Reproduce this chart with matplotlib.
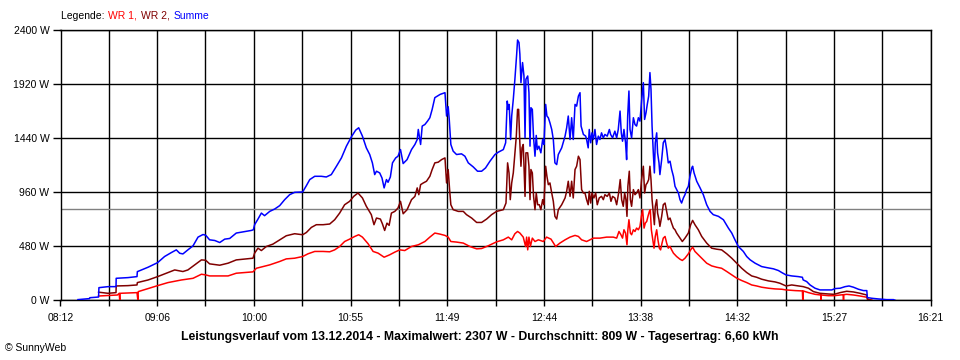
import matplotlib
matplotlib.use("Agg")
import matplotlib.pyplot as plt
import numpy as np

plt.rcParams['font.family'] = ['Liberation Sans', 'DejaVu Sans']

# ---- data (time in minutes since midnight, power in W) ----
wr1_t = [513.4, 524.0, 525.0, 525.3, 525.5, 535.0, 535.5, 535.7, 546.6, 552.4, 559.9, 566.5, 571.2, 573.6, 575.8, 586.2,
         590.8, 600.2, 602.1, 605.8, 609.6, 615.2, 618.9, 623.6, 628.1, 631.1, 634.9, 639.6, 643.3, 646.1, 648.9, 651.7,
         654.5, 657.4, 659.6, 661.7, 664.9, 667.7, 670.5, 673.9, 677.0, 679.9, 682.7, 685.5,
         689.3, 693.1, 696.8, 699.6, 702.4, 705.2, 708.1, 709.9, 711.4, 714.6, 718.4, 722.1, 725.9, 728.7, 732.4, 737.1,
         740.9, 743.7, 745.6, 747.4, 748.9, 750.2, 752.1, 753.4, 754.0, 754.6, 755.3, 756.1, 757.2, 758.7, 760.6, 763.4,
         765.2, 767.7, 770.3, 772.7, 775.6, 778.4, 781.2, 783.1, 784.9, 787.7,
         789.6, 791.5, 795.2, 799.0, 802.7, 804.6, 805.9, 807.0, 807.9, 808.7, 809.6, 810.4, 810.9, 811.5, 812.3, 813.0,
         814.0, 814.9, 815.8, 816.8, 817.7, 818.5, 819.2, 820.0, 820.7, 821.5, 822.2, 823.0, 823.5, 824.1, 824.8, 825.6,
         826.3, 827.1, 827.8, 828.6, 829.3, 830.1, 830.8, 831.8, 832.7, 833.6, 834.6, 835.5, 836.5, 838.3, 840.2, 841.5,
         843.0, 844.9, 846.2, 847.3, 848.6, 850.5, 852.4, 855.2, 858.0, 860.8, 863.6, 866.5, 869.3, 872.1, 874.9, 877.7,
         880.5, 883.3, 886.1,
         889.9, 893.6, 897.4, 899.8, 904.9, 909.0, 909.2, 909.4, 912.4, 916.1, 919.3, 919.4, 919.5, 923.6, 926.8, 930.2,
         932.0, 932.1, 932.2, 933.9, 937.7, 941.4, 945.2, 946.1, 948.0]
wr1_w = [38, 47, 62, 0, 62, 68, 0, 77, 130, 157, 180, 195, 231, 225, 216, 216,
         240, 252, 284, 299, 314, 344, 367, 373, 388, 412, 433, 433, 430, 447, 477, 521,
         542, 566, 581, 560, 501, 433, 418, 382, 403, 427, 447, 441,
         477, 492, 521, 560, 596, 587, 575, 560, 521, 516, 507, 477, 456, 459, 483, 518,
         536, 560, 536, 590, 610, 596, 560, 477, 560, 447, 560, 477, 551, 521, 536, 521,
         560, 542, 477, 507, 536, 560, 575, 566, 536, 521,
         536, 551, 551, 560, 560, 551, 610, 581, 551, 625, 596, 492, 625, 714, 596, 581,
         625, 610, 640, 625, 655, 744, 803, 640, 684, 699, 744, 788, 803, 625, 551, 462,
         566, 625, 536, 462, 447, 507, 551, 566, 507, 462, 477, 447, 418, 388, 364, 353,
         373, 412, 447, 471, 433, 403, 373, 329, 305, 293, 284, 255, 225, 196, 175, 157,
         136, 127, 116,
         107, 101, 98, 92, 86, 83, 0, 83, 68, 53, 47, 0, 47, 41, 41, 47,
         50, 0, 50, 53, 47, 38, 27, 6, 0]

wr2_t = [513.4, 518.7, 523.2, 523.3, 529.9, 535.0, 535.2, 541.2, 546.6, 550.5, 556.2, 560.8, 563.6, 567.4, 571.2, 573.6,
         575.8, 581.5, 586.2,
         590.8, 600.2, 601.1, 603.0, 604.9, 607.7, 611.4, 615.2, 618.9, 623.6, 628.1, 630.2, 633.0, 635.8, 639.6, 643.3,
         646.1, 648.9, 651.7, 654.5, 656.8, 659.2, 661.7, 663.9, 666.7, 668.2, 669.6, 671.8, 672.9, 674.2, 675.5, 676.7,
         678.0, 679.9, 681.7, 683.1, 684.6, 686.8,
         689.3, 691.2, 692.5, 693.4, 694.4, 695.9, 697.7, 699.6, 700.9, 702.4, 704.3, 706.2, 708.1, 709.0, 709.9, 710.7,
         711.4, 712.7, 715.6, 718.4, 720.2, 723.1, 725.9, 728.7, 731.5, 734.3, 737.1, 740.9, 742.4, 743.3, 744.1, 744.8,
         745.6, 746.5, 747.4, 748.2, 748.9, 749.5, 750.1, 750.8, 751.4, 752.1, 753.1, 753.6, 754.6, 755.3, 755.9, 756.4,
         757.2, 757.9, 758.7, 759.4, 760.2, 761.1, 762.0, 763.0, 763.7, 764.7, 765.4, 766.2, 767.1, 768.1, 769.0, 769.9,
         770.9, 771.8, 773.7, 775.6, 776.5, 777.4, 778.4, 779.3, 780.2, 781.2, 782.1, 783.1, 784.0, 784.9, 785.9, 786.8,
         787.7,
         788.6, 789.2, 790.0, 790.7, 791.8, 792.8, 793.7, 794.8, 796.1, 797.1, 798.0, 799.3, 800.5, 801.4, 802.3, 803.6,
         804.6, 805.7, 806.6, 807.4, 808.3, 809.1, 809.8, 810.4, 810.9, 811.7, 812.3, 813.0, 814.0, 814.9, 815.8, 816.8,
         817.7, 818.6, 819.6, 820.3, 821.1, 821.8, 822.6, 823.3, 823.9, 824.5, 825.2, 825.8, 826.3, 827.1, 827.6, 828.4,
         828.9, 829.9, 830.8, 831.8, 832.7, 833.6, 834.6, 835.5, 836.5, 837.4, 838.3, 840.2, 841.5, 843.0, 844.9, 846.2,
         847.3, 848.6, 850.5, 852.4, 855.2, 858.0, 860.8, 863.6, 866.5, 869.3, 872.1, 874.9, 877.7, 880.5, 883.3, 886.1,
         889.9, 893.6, 896.4, 899.8, 903.0, 906.7, 909.5, 912.4, 915.2, 918.9, 923.6, 926.8, 930.2, 933.9, 937.7, 941.4,
         945.2, 945.5, 948.0]
wr2_w = [72, 62, 68, 127, 130, 136, 157, 180, 210, 234, 269, 255, 269, 313, 358, 355,
         323, 311, 329,
         358, 373, 418, 462, 441, 477, 498, 536, 572, 590, 581, 601, 646, 670, 670, 676,
         714, 773, 847, 877, 921, 951, 907, 833, 759, 670, 729, 720, 679, 619, 684, 664,
         773, 788, 818, 877, 767, 803,
         892, 921, 996, 936, 1025, 1040, 1055, 1099, 1159, 1218, 1224, 1247, 1262, 1040, 1159, 981,
         847, 803, 788, 788, 759, 729, 690, 690, 720, 759, 788, 803, 862, 1218, 1129, 892,
         1040, 1129, 1307, 1455, 1692, 1692, 1425, 1188, 1351, 1381, 921, 1307, 1307, 1188, 892, 1159,
         1129, 921, 803, 951, 847, 847, 803, 892, 847, 1188, 1099, 1025, 1040, 951, 877, 744,
         720, 803, 847, 907, 966, 1055, 921, 1055, 907, 1159, 1188, 1277, 1247, 981, 951, 951,
         892,
         847, 966, 862, 951, 907, 951, 847, 907, 921, 892, 936, 921, 951, 877, 921, 907,
         847, 951, 1070, 892, 833, 951, 892, 744, 1010, 1144, 892, 833, 981, 936, 951, 981,
         907, 1070, 1188, 951, 1025, 1040, 1070, 1188, 1070, 892, 773, 670, 833, 892, 773, 714,
         655, 744, 847, 862, 788, 714, 729, 684, 640, 625, 596, 551, 521, 551, 596, 670,
         708, 670, 625, 566, 507, 462, 453, 447, 412, 373, 329, 284, 246, 216, 204, 187,
         172, 163, 151, 127, 136, 127, 121, 107, 77, 62, 56, 53, 68, 80, 74, 62,
         47, 9, 0]

sum_t = [501.8, 508.3, 508.5, 513.4, 513.6, 518.7, 523.2, 523.3, 529.9, 535.0, 535.2, 541.2, 546.6, 550.5, 554.3, 557.1,
         559.0, 560.8, 563.6, 566.5, 569.3, 572.1, 573.6, 575.8, 578.7, 581.5, 584.3, 587.1,
         590.8, 599.2, 600.4, 601.1, 603.0, 604.9, 606.7, 609.6, 612.4, 615.2, 618.0, 620.8, 623.6, 628.1, 630.2, 632.1,
         634.9, 638.6, 641.4, 644.2, 647.1, 649.9, 652.7, 655.5, 657.9, 659.6, 661.7, 663.9, 665.8, 667.3, 668.6, 669.6,
         671.4, 672.7, 673.9, 675.2, 676.1, 677.4, 678.6, 680.4, 681.7, 683.1, 684.6, 686.8,
         689.3, 691.2, 692.5, 693.1, 694.4, 695.3, 696.8, 698.3, 699.6, 700.9, 702.4, 703.9, 705.4, 707.1, 708.1, 709.0,
         709.9, 710.5, 711.4, 712.7, 714.6, 717.4, 719.3, 721.2, 724.0, 726.4, 728.7, 730.9, 733.4, 736.2, 738.1, 740.9,
         742.2, 743.1, 743.7, 744.2, 745.0, 745.6, 746.5, 747.4, 748.4, 748.9, 749.7, 750.2, 750.8, 751.2, 751.7, 752.5,
         753.1, 753.6, 754.6, 755.3, 755.9, 756.4, 757.2, 757.9, 758.7, 759.4, 760.0, 760.9, 762.0, 763.0, 763.7, 764.7,
         765.4, 766.2, 767.1, 768.1, 769.0, 769.9, 770.9, 771.8, 773.7, 775.6, 776.5, 777.4, 778.4, 779.3, 780.2, 781.2,
         782.1, 783.1, 784.0, 784.6, 785.9, 787.2,
         787.7, 788.6, 789.2, 790.0, 790.7, 791.5, 792.4, 793.3, 794.3, 795.2, 796.1, 797.1, 798.0, 799.3, 800.5, 801.2,
         802.3, 803.6, 804.6, 805.5, 806.5, 807.2, 807.9, 808.7, 809.6, 810.2, 810.8, 811.5, 812.1, 813.0, 814.0, 814.9,
         815.8, 816.8, 817.7, 818.6, 819.6, 820.3, 821.1, 821.8, 822.6, 823.3, 823.9, 824.5, 825.2, 825.8, 826.3, 827.1,
         827.6, 828.4, 828.9, 829.9, 830.8, 831.8, 832.7, 833.6, 834.6, 835.5, 836.5, 837.4, 838.3, 839.3, 840.2, 841.1,
         842.1, 843.0, 843.9, 844.9, 845.8, 846.8, 847.3, 848.1, 849.6, 851.5, 853.3, 855.2, 857.1, 858.9, 861.8, 864.6,
         867.4, 869.3, 871.1, 873.0, 875.8, 877.7, 879.6, 882.4, 884.3, 886.1,
         888.9, 892.7, 895.5, 897.4, 899.8, 903.0, 906.7, 909.0, 909.4, 911.4, 913.3, 916.1, 918.9, 921.7, 925.5, 927.4,
         930.2, 933.0, 935.2, 937.7, 940.5, 943.3, 945.2, 945.5, 948.0, 951.7, 956.4, 960.2, 961.1]
sum_w = [6, 15, 23, 29, 112, 121, 121, 195, 201, 210, 254, 293, 334, 388, 423, 447,
         417, 411, 447, 483, 560, 583, 577, 536, 530, 512, 542, 548,
         596, 619, 625, 670, 720, 773, 750, 788, 809, 839, 892, 936, 957, 960, 1016, 1070,
         1099, 1099, 1093, 1114, 1188, 1262, 1366, 1449, 1508, 1529, 1455, 1351, 1292, 1218, 1114, 1144,
         1129, 1084, 996, 1070, 1046, 1093, 1218, 1262, 1277, 1336, 1212, 1247,
         1336, 1381, 1425, 1514, 1381, 1544, 1558, 1588, 1618, 1692, 1796, 1810, 1825, 1834, 1840, 1633,
         1716, 1603, 1381, 1322, 1292, 1298, 1277, 1218, 1182, 1144, 1144, 1173, 1233, 1292, 1313, 1336,
         1396, 1766, 1692, 1736, 1425, 1633, 1781, 1959, 2181, 2307, 2285, 2181, 1929, 2003, 2107, 1988,
         1440, 1959, 1988, 1840, 1366, 1707, 1692, 1440, 1277, 1461, 1336, 1366, 1307, 1425, 1381, 1736,
         1633, 1618, 1573, 1514, 1425, 1218, 1203, 1292, 1351, 1455, 1529, 1633, 1425, 1618, 1425, 1736,
         1721, 1810, 1840, 1544, 1470, 1455,
         1425, 1351, 1514, 1396, 1484, 1425, 1514, 1381, 1455, 1425, 1484, 1440, 1470, 1455, 1514, 1470,
         1440, 1499, 1440, 1514, 1677, 1484, 1410, 1514, 1396, 1247, 1633, 1855, 1514, 1440, 1618, 1558,
         1544, 1618, 1588, 1766, 1929, 1603, 1662, 1736, 1810, 2018, 1870, 1544, 1307, 1129, 1396, 1484,
         1307, 1218, 1114, 1247, 1396, 1425, 1336, 1218, 1233, 1159, 1099, 1010, 981, 951, 892, 862,
         907, 936, 981, 1010, 1099, 1173, 1188, 1129, 1055, 996, 936, 847, 788, 759, 744, 714,
         640, 596, 536, 477, 433, 388, 359, 329, 314, 299,
         290, 279, 264, 246, 225, 216, 210, 204, 181, 166, 136, 107, 92, 92, 92, 104,
         107, 121, 127, 116, 98, 86, 86, 24, 18, 12, 6, 6, 0]

avg_w = 809
y_ticks = [0, 480, 960, 1440, 1920, 2400]
x_labels = ["08:12", "09:06", "10:00", "10:55", "11:49", "12:44", "13:38", "14:32", "15:27", "16:21"]
t_start, t_end = 492, 981
legend_names = ["WR 1", "WR 2", "Summe"]
colors = ["#ff0000", "#800000", "#0000ff"]
title = ("Leistungsverlauf vom 13.12.2014 - Maximalwert: 2307 W - "
         "Durchschnitt: 809 W - Tagesertrag: 6,60 kWh")

# ---- figure ----
fig = plt.figure(figsize=(9.6, 3.6), dpi=100)
fig.patch.set_facecolor("white")
ax = fig.add_axes([60.5 / 960, 59.7 / 360, 870 / 960, 270.8 / 360])

ax.set_xlim(t_start, t_end)
ax.set_ylim(0, 2400)

major = np.linspace(t_start, t_end, len(x_labels))
minor = (major[:-1] + major[1:]) / 2
ax.set_xticks(major)
ax.set_xticklabels(x_labels)
ax.set_xticks(minor, minor=True)
ax.set_yticks(y_ticks)
ax.set_yticklabels([f"{v} W" for v in y_ticks])

ax.set_axisbelow(True)
ax.grid(which="both", axis="x", color="black", lw=1.0)
ax.grid(which="major", axis="y", color="black", lw=1.0)
ax.axhline(avg_w, color="#808080", lw=1.0, zorder=1.5)

ax.plot(wr1_t, wr1_w, color=colors[0], lw=1.1, zorder=3)
ax.plot(wr2_t, wr2_w, color=colors[1], lw=1.1, zorder=3)
ax.plot(sum_t, sum_w, color=colors[2], lw=1.1, zorder=3)

for s in ax.spines.values():
    s.set_color("black")
    s.set_linewidth(1.0)

ax.tick_params(axis="y", which="major", direction="out", length=6, width=1,
               pad=2, labelsize=7.5, colors="black")
ax.tick_params(axis="x", which="both", direction="out", length=4, width=1,
               pad=5, labelsize=7.5, colors="black")

# title (bottom)
fig.text(479.5 / 960, 1 - 337 / 360, title, ha="center", va="center",
         fontsize=8.8, fontweight="bold", color="black")
# copyright
fig.text(5 / 960, 1 - 348 / 360, "\u00a9 SunnyWeb", ha="left", va="center",
         fontsize=7.5, color="black")

# legend line at top
renderer = fig.canvas.get_renderer()
x_px = 61.0
parts = [("Legende: ", "black")]
for i, (nm, c) in enumerate(zip(legend_names, colors)):
    sep = ", " if i < len(legend_names) - 1 else ""
    parts.append((nm + sep, c))
for txt, c in parts:
    t = fig.text(x_px / 960, 1 - 16 / 360, txt, ha="left", va="center",
                 fontsize=7.5, color=c)
    bb = t.get_window_extent(renderer=renderer)
    x_px = bb.x1 + 1.0

fig.savefig("out.png", dpi=100, facecolor="white")
